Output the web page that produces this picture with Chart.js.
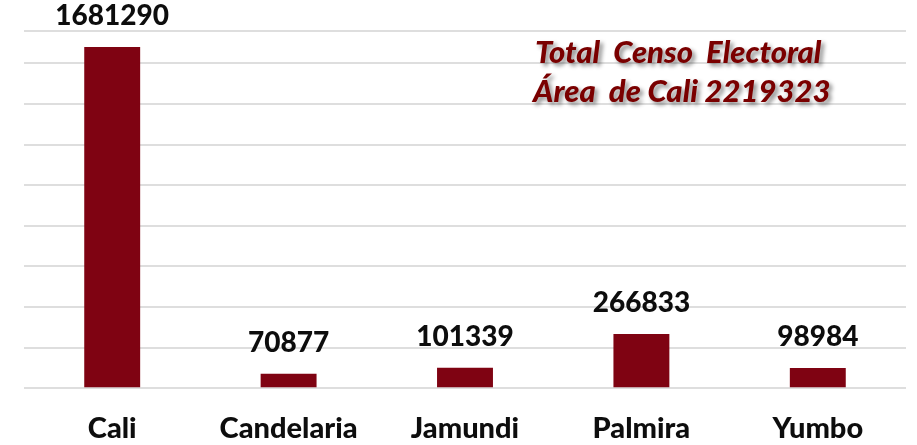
<!DOCTYPE html>
<html>
<head>
<meta charset="utf-8">
<script src="https://cdn.jsdelivr.net/npm/chart.js@4.4.1/dist/chart.umd.min.js"></script>
<style>
  html, body { margin: 0; padding: 0; background: #fff; }
  .chart-wrap { position: relative; width: 917px; height: 445px; }
</style>
</head>
<body>
<div class="chart-wrap"><canvas id="censoChart"></canvas></div>
<script>
// Censo electoral por municipio (área de Cali)
const municipios = ['Cali', 'Candelaria', 'Jamundi', 'Palmira', 'Yumbo'];
const votantes   = [1681290, 70877, 101339, 266833, 98984];
const yGridValues = [0, 200000, 400000, 600000, 800000, 1000000, 1200000, 1400000, 1600000, 1760000];
const tituloLineas = ['Total  Censo  Electoral', 'Área  de Cali 2219323'];

const BAR_COLOR = '#7f0312';
const FONT = 'Lato, "Open Sans", sans-serif';

// etiquetas de valor encima de cada barra
const valueLabels = {
    id: 'valueLabels',
    afterDatasetsDraw(chart) {
        const ctx = chart.ctx;
        const meta = chart.getDatasetMeta(0);
        ctx.save();
        ctx.font = '900 28px ' + FONT;
        ctx.fillStyle = '#0d0d0d';
        ctx.textAlign = 'center';
        ctx.textBaseline = 'alphabetic';
        meta.data.forEach((bar, i) => {
            ctx.fillText(String(votantes[i]), bar.x, bar.y - 22);
        });
        ctx.restore();
    },
};

// titulo en cursiva con sombra
const tituloBox = {
    id: 'tituloBox',
    afterDraw(chart) {
        const ctx = chart.ctx;
        ctx.save();
        ctx.font = 'italic 900 31px ' + FONT;
        ctx.fillStyle = '#7a0000';
        ctx.textAlign = 'left';
        ctx.textBaseline = 'alphabetic';
        ctx.shadowColor = 'rgba(0,0,0,0.45)';
        ctx.shadowBlur = 4;
        ctx.shadowOffsetX = 3;
        ctx.shadowOffsetY = 3;
        ctx.fillText(tituloLineas[0], 535, 63);
        ctx.fillText(tituloLineas[1], 533, 102);
        ctx.restore();
    },
};

new Chart(document.getElementById('censoChart').getContext('2d'), {
    type: 'bar',
    data: {
        labels: municipios,
        datasets: [{
            data: votantes,
            backgroundColor: BAR_COLOR,
            categoryPercentage: 1,
            barPercentage: 0.317,
        }],
    },
    options: {
        responsive: true,
        maintainAspectRatio: false,
        animation: false,
        layout: { padding: { top: 31, left: 24, right: 11, bottom: -24 } },
        plugins: {
            legend: { display: false },
            tooltip: { enabled: false },
        },
        scales: {
            x: {
                grid: { display: false, drawTicks: false },
                border: { display: false },
                ticks: {
                    color: '#0d0d0d',
                    padding: 23,
                    font: { family: FONT, size: 29, weight: '900' },
                },
            },
            y: {
                min: 0,
                max: 1760000,
                afterBuildTicks(scale) {
                    scale.ticks = yGridValues.map(v => ({ value: v }));
                },
                ticks: { display: false },
                grid: { color: '#dedede', lineWidth: 2, drawTicks: false },
                border: { display: false },
            },
        },
    },
    plugins: [valueLabels, tituloBox],
});
</script>
</body>
</html>
